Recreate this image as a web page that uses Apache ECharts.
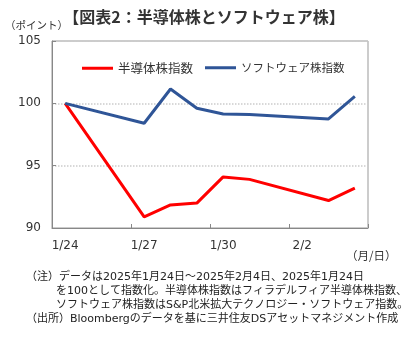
<!DOCTYPE html>
<html><head><meta charset="utf-8">
<script src="https://cdn.jsdelivr.net/npm/echarts@6/dist/echarts.min.js"></script>
<style>html,body{margin:0;padding:0;background:#fff}#c{width:408px;height:340px}</style>
</head><body><div id="c"></div>
<script>
const categories = ['1/24','1/25','1/26','1/27','1/28','1/29','1/30','1/31','2/1','2/2','2/3','2/4'];
const semiconductor = [100, null, null, 90.9, 91.85, 92.0, 94.1, 93.9, null, null, 92.2, 93.2];
const software = [100, null, null, 98.4, 101.15, 99.6, 99.15, 99.1, null, null, 98.75, 100.55];
const yTicks = [90, 95, 100, 105];
const seriesNames = ['半導体株指数', 'ソフトウェア株指数'];
const FONT = '"Noto Sans CJK JP", "Noto Sans", sans-serif';
const MIX = '"DejaVu Sans", "Noto Sans CJK JP", sans-serif';
const notes = [
  {t: '（注）データは2025年1月24日～2025年2月4日、2025年1月24日', x: 26},
  {t: 'を100として指数化。半導体株指数はフィラデルフィア半導体株指数、', x: 56},
  {t: 'ソフトウェア株指数はS&P北米拡大テクノロジー・ソフトウェア指数。', x: 56},
  {t: '（出所）Bloombergのデータを基に三井住友DSアセットマネジメント作成', x: 26}
];
const chart = echarts.init(document.getElementById('c'));
chart.setOption({
  animation: false,
  textStyle: {fontFamily: FONT},
  title: {
    text: '【図表2：半導体株とソフトウェア株】',
    left: 'center', top: 4,
    textStyle: {fontSize: 16, fontWeight: 'bold', color: '#333', fontFamily: FONT}
  },
  legend: [
    {data: [seriesNames[0]], left: 77, top: 57, icon: 'rect', itemWidth: 31, itemHeight: 3,
     textStyle: {fontSize: 12.5, color: '#333', fontFamily: FONT}},
    {data: [seriesNames[1]], left: 200, top: 57, icon: 'rect', itemWidth: 31, itemHeight: 3,
     textStyle: {fontSize: 11.5, color: '#333', fontFamily: FONT}}
  ],
  grid: {left: 52, right: 40, top: 41, bottom: 112, show: true, borderColor: '#999', borderWidth: 1},
  xAxis: {
    type: 'category', data: categories, boundaryGap: true,
    axisLine: {lineStyle: {color: '#888'}},
    axisTick: {show: true, inside: true, length: 4, interval: 2, lineStyle: {color: '#888'}},
    axisLabel: {interval: 2, fontSize: 12, color: '#333', margin: 12, fontFamily: MIX},
    splitLine: {show: false}
  },
  yAxis: {
    type: 'value', min: yTicks[0], max: yTicks[yTicks.length-1], interval: 5,
    axisLine: {show: true, lineStyle: {color: '#888'}},
    axisTick: {show: true, inside: true, length: 4, lineStyle: {color: '#888'}},
    axisLabel: {fontSize: 12, color: '#333', margin: 11, fontFamily: MIX},
    splitLine: {show: true, lineStyle: {color: '#ccc', type: 'dotted', width: 1.5}}
  },
  series: [
    {name: seriesNames[0], type: 'line', data: semiconductor, connectNulls: true, showSymbol: false,
     lineStyle: {color: '#FF0000', width: 3}, itemStyle: {color: '#FF0000'}},
    {name: seriesNames[1], type: 'line', data: software, connectNulls: true, showSymbol: false,
     lineStyle: {color: '#2F5597', width: 3}, itemStyle: {color: '#2F5597'}}
  ],
  graphic: [
    {type: 'text', left: 5, top: 20, style: {text: '（ポイント）', fontSize: 10.5, fill: '#333', fontFamily: FONT}},
    {type: 'text', left: 346, top: 250, style: {text: '（月/日）', fontSize: 11.5, fill: '#333', fontFamily: FONT}},
    ...notes.map((n, i) => ({type: 'text', left: n.x, top: 272 + i * 14,
      style: {text: n.t, fontSize: 11, fill: '#222', fontFamily: MIX}}))
  ]
});
</script></body></html>
